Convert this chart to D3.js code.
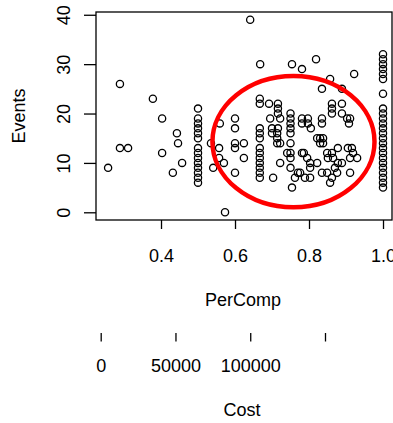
<!DOCTYPE html>
<html><head><meta charset="utf-8">
<script src="https://cdn.jsdelivr.net/npm/d3@7"></script>
<style>html,body{margin:0;padding:0;background:#fff;} svg{display:block;}</style>
</head><body><svg id="c" width="393" height="423"></svg>
<script>
// ---- data ----
const perComp = [
  0.257,0.289,0.289,0.311,0.378,0.403,0.403,0.432,0.443,0.446,0.457,
  0.5,0.5,0.5,0.5,0.5,0.5,0.5,0.5,0.5,0.5,0.5,0.5,0.5,0.5,
  0.535,0.557,0.557,0.541,0.570,0.559,0.600,0.600,0.600,0.600,0.624,0.624,0.600,0.573,0.641,
  0.667,0.667,0.667,0.667,0.667,0.667,0.667,0.667,0.667,0.667,0.667,0.667,0.668,
  0.692,0.716,0.716,0.716,0.695,0.722,0.700,0.716,0.700,0.714,0.714,0.714,0.722,0.722,0.703,
  0.750,0.750,0.750,0.750,0.750,0.750,0.750,0.750,0.750,0.741,0.770,0.754,0.754,0.781,0.819,
  0.781,0.781,0.797,0.797,0.781,0.795,0.803,0.822,0.803,0.789,0.803,0.776,0.762,0.805,0.786,
  0.822,0.830,0.838,0.830,0.838,0.835,0.835,0.835,0.857,0.862,0.862,0.862,0.889,0.889,0.889,0.922,0.903,0.911,0.908,
  0.849,0.862,0.851,0.865,0.878,0.905,0.916,0.919,0.911,0.930,0.889,0.878,0.870,0.835,0.849,0.862,0.857,0.876,0.911,
  1.0,1.0,1.0,1.0,1.0,1.0,1.0,1.0,1.0,1.0,1.0,1.0,1.0,1.0,1.0,1.0,1.0,1.0,1.0,1.0,1.0,1.0,1.0,1.0
];
const events = [
  9,26,13,13,23,19,12,8,16,14,10,
  21,19,18,17,16,15,13,12,11,10,9,8,7,6,
  14,13,11,9,10,18,19,17,14,13,14,11,8,0,39,
  23,22,17,16,15,13,12,11,10,9,8,7,30,
  22,22,21,20,19,19,17,17,16,16,15,14,14,10,7,
  20,19,18,17,16,14,12,11,9,12,8,5,30,29,31,
  19,18,19,18,12,11,10,10,9,7,7,8,7,17,12,
  15,15,15,14,14,19,18,25,27,22,21,20,22,20,25,28,19,19,18,
  12,12,11,11,13,13,13,12,11,11,10,10,9,8,8,7,6,8,8,
  32,31,30,29,28,27,24,21,20,19,18,17,16,15,14,13,12,11,10,9,8,7,6,5
];
const xTicks = [0.4, 0.6, 0.8, 1.0];
const xTickLabels = ["0.4", "0.6", "0.8", "1.0"];
const yTicks = [0, 10, 20, 30, 40];
const yTickLabels = ["0", "10", "20", "30", "40"];
const costTicks = [0, 50000, 100000, 150000];
const costTickLabels = ["0", "50000", "100000", ""];
const xTitle = "PerComp", yTitle = "Events", costTitle = "Cost";
// highlight ellipse (data units)
const ellCenter = [0.758, 14.3];
const ellRadius = [0.219, 13.3];

// ---- layout ----
const W = 393, H = 423;
const plot = {left: 96, right: 392, top: 12, bottom: 220};
const FONT = "'Liberation Sans', Arial, sans-serif";
const FS = 18;

const svg = d3.select("#c");
const x = d3.scaleLinear().domain([0.2243, 1.0243]).range([plot.left, plot.right]);
const y = d3.scaleLinear().domain([-1.56, 40.56]).range([plot.bottom, plot.top]);
const xc = d3.scaleLinear().domain([0, 150000]).range([100.7, 325]);

// points
svg.append("g").selectAll("circle")
  .data(perComp.map((p, i) => [p, events[i]]))
  .join("circle")
  .attr("cx", d => x(d[0])).attr("cy", d => y(d[1]))
  .attr("r", 3.6).attr("fill", "none").attr("stroke", "#000").attr("stroke-width", 1.3);

// box
svg.append("rect").attr("x", plot.left).attr("y", plot.top)
  .attr("width", plot.right - plot.left).attr("height", plot.bottom - plot.top)
  .attr("fill", "none").attr("stroke", "#000").attr("stroke-width", 1.3);

// x axis
const gx = svg.append("g").attr("transform", `translate(0,${plot.bottom})`)
  .call(d3.axisBottom(x).tickValues(xTicks).tickFormat((d, i) => xTickLabels[i]).tickSize(9));
gx.select(".domain").remove();
gx.selectAll("line").attr("stroke", "#000").attr("stroke-width", 1.3);
gx.selectAll("text").attr("y", 41.5).attr("dy", 0).attr("fill", "#000")
  .style("font-family", FONT).style("font-size", FS + "px");

// y axis
const gy = svg.append("g").attr("transform", `translate(${plot.left},0)`)
  .call(d3.axisLeft(y).tickValues(yTicks).tickFormat((d, i) => yTickLabels[i]).tickSize(12));
gy.select(".domain").remove();
gy.selectAll("line").attr("stroke", "#000").attr("stroke-width", 1.3);
gy.selectAll("text").attr("x", null).attr("dy", null).attr("text-anchor", "middle")
  .attr("transform", "translate(-26,0) rotate(-90)").attr("fill", "#000")
  .style("font-family", FONT).style("font-size", FS + "px");

// cost axis (ticks without line)
const gc = svg.append("g").attr("transform", "translate(0,333)")
  .call(d3.axisBottom(xc).tickValues(costTicks).tickFormat((d, i) => costTickLabels[i]).tickSize(8.5));
gc.select(".domain").remove();
gc.selectAll("line").attr("stroke", "#000").attr("stroke-width", 1.3);
gc.selectAll("text").attr("y", 38.5).attr("dy", 0).attr("fill", "#000")
  .style("font-family", FONT).style("font-size", FS + "px");

// titles
const cx = (plot.left + plot.right) / 2;
svg.append("text").attr("x", cx - 1).attr("y", 306).attr("text-anchor", "middle")
  .style("font-family", FONT).style("font-size", FS + "px").text(xTitle);
svg.append("text").attr("x", cx - 2).attr("y", 415.5).attr("text-anchor", "middle")
  .style("font-family", FONT).style("font-size", FS + "px").text(costTitle);
svg.append("text").attr("transform", `translate(25,${(plot.top + plot.bottom) / 2}) rotate(-90)`)
  .attr("text-anchor", "middle")
  .style("font-family", FONT).style("font-size", FS + "px").text(yTitle);

// red ellipse
svg.append("ellipse")
  .attr("cx", x(ellCenter[0])).attr("cy", y(ellCenter[1]))
  .attr("rx", x(ellCenter[0] + ellRadius[0]) - x(ellCenter[0]))
  .attr("ry", y(ellCenter[1] - ellRadius[1]) - y(ellCenter[1]))
  .attr("fill", "none").attr("stroke", "#f00").attr("stroke-width", 4.5);
</script></body></html>
